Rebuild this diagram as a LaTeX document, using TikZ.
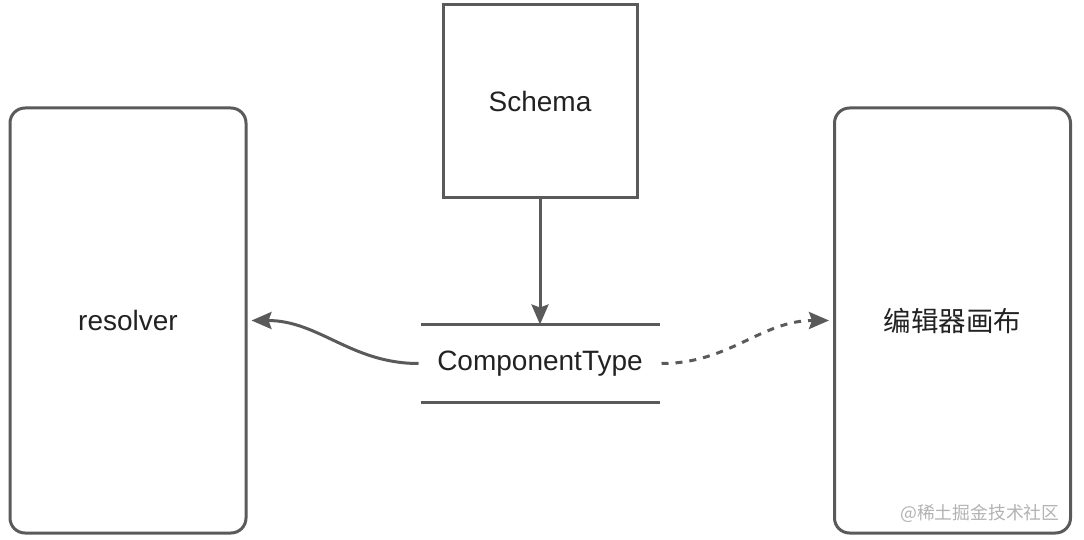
\documentclass[tikz,border=0pt]{standalone}
\usepackage{fontspec}
\setmainfont{Liberation Sans}
\newfontfamily\cjk{Noto Sans CJK SC}
\usetikzlibrary{arrows.meta}
\definecolor{linegray}{HTML}{5A5A5A}
\definecolor{textgray}{HTML}{222222}
\tikzset{
	box/.style={draw=linegray,line width=3pt,text=textgray,font=\fontsize{28}{32}\selectfont},
	panel/.style={box,rounded corners=15pt,minimum width=236pt,minimum height=425pt},
	link/.style={draw=linegray,line width=3pt,-{Stealth[length=20pt,width=17pt,inset=3pt]}},
}
\begin{document}
\begin{tikzpicture}[x=1pt,y=-1pt]
	\useasboundingbox (0,0) rectangle (1084,540);
	\node[panel] (resolver) at (128,320.5) {resolver};
	\node[panel] (canvas) at (952.5,320.5) {\cjk\fontsize{27.5}{32}\selectfont 编辑器画布};
	\node[box,minimum width=194pt,minimum height=193pt] (schema) at (540,101.5) {Schema};
	\node[box,draw=none,minimum width=236pt,minimum height=75pt] (ctype) at (540,363.5) {ComponentType};
	\draw[draw=linegray,line width=3pt] (ctype.north west)--(ctype.north east) (ctype.south west)--(ctype.south east);
	\draw[link] (schema.south)--(ctype.north);
	\draw[link] (ctype.west)++(-2,0) to[out=180,in=0] ([xshift=4pt]resolver.east);
	\draw[link,dash pattern=on 7pt off 7pt] (ctype.east)++(2,0) to[out=0,in=180] ([xshift=-4pt]canvas.west);
	\node[anchor=east,text=black!30,font=\cjk\fontsize{17.8}{21}\selectfont] (mark) at (1063,513) {@稀土掘金技术社区};
\end{tikzpicture}
\end{document}
